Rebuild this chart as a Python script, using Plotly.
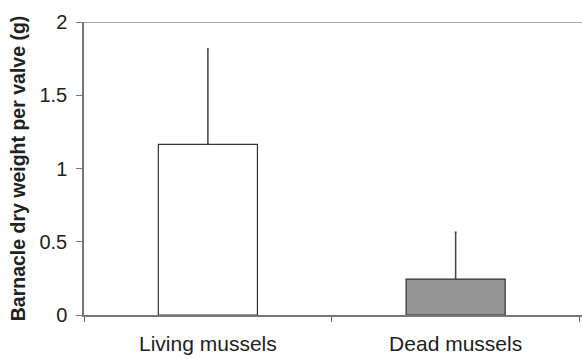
import plotly.graph_objects as go

categories = ["Living mussels", "Dead mussels"]
means = [1.165, 0.245]
sd_upper = [0.65, 0.32]
bar_colors = ["#ffffff", "#959595"]
y_ticks = [0, 0.5, 1, 1.5, 2]
y_tick_labels = ["0", "0.5", "1", "1.5", "2"]

fig = go.Figure()
fig.add_trace(go.Bar(
    x=categories, y=means, width=0.4,
    marker=dict(color=bar_colors, line=dict(color="#333333", width=1.2)),
    error_y=dict(type="data", symmetric=False, array=sd_upper,
                 arrayminus=[0, 0], color="#444444", thickness=1.5, width=1),
))
fig.add_shape(type="line", xref="paper", yref="y", x0=0, x1=1, y0=2, y1=2,
              line=dict(color="#888888", width=1.5), layer="below")
fig.update_layout(
    width=582, height=359,
    margin=dict(l=84, r=0, t=22, b=44),
    paper_bgcolor="white", plot_bgcolor="white",
    showlegend=False,
    font=dict(family="Liberation Sans, Arial, sans-serif", color="#222222"),
    xaxis=dict(range=[-0.5, 1.51], tickson="boundaries", ticks="outside",
               ticklen=5, tickcolor="#666666", showline=True, linecolor="#777777",
               linewidth=1.5, tickfont=dict(size=21), showgrid=False,
               ticklabelstandoff=9),
    yaxis=dict(range=[0, 2], tickvals=y_ticks, ticktext=y_tick_labels,
               ticks="outside", ticklen=6, tickcolor="#777777",
               showline=True, linecolor="#777777", linewidth=1.5,
               showgrid=False, zeroline=False, tickfont=dict(size=20),
               ticklabelstandoff=5,
               title=dict(text="<b>Barnacle dry weight per valve (g)</b>",
                          font=dict(size=19.5), standoff=9)),
)
fig.write_html("out.html")
